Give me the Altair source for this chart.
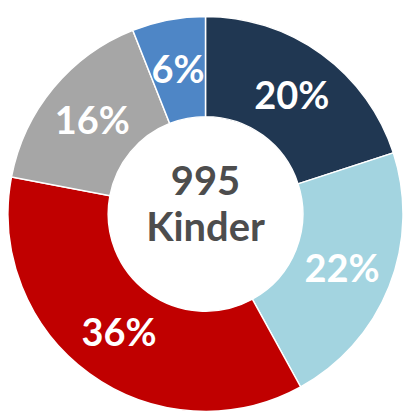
import altair as alt
import pandas as pd

categories = ["A", "B", "C", "D", "E"]
values = [20, 22, 36, 16, 6]
labels = ["20%", "22%", "36%", "16%", "6%"]
colors = ["#203752", "#A3D4E0", "#C00000", "#A6A6A6", "#4E86C6"]
center_lines = ["995", "Kinder"]

df = pd.DataFrame({"cat": categories, "value": values, "label": labels,
                   "idx": list(range(len(categories)))})

CX, CY = 203, 206

base = alt.Chart(df).encode(
    theta=alt.Theta("value:Q", stack=True),
    order=alt.Order("idx:Q"),
    color=alt.Color("cat:N", scale=alt.Scale(domain=categories, range=colors), legend=None),
)

arcs = base.mark_arc(radius=203, radius2=100, stroke="white", strokeWidth=1.5).encode(
    x=alt.value(CX), y=alt.value(CY),
)

text = base.mark_text(font="Lato", fontWeight="bold", fontSize=39,
                      baseline="middle", dy=2, radius=151).encode(
    text="label:N", x=alt.value(CX), y=alt.value(CY),
    color=alt.value("white"),
)

def center_text(line, ypos):
    return alt.Chart(pd.DataFrame({"line": [line]})).mark_text(
        font="Lato", fontWeight="bold", fontSize=41, color="#4D4D4D",
        baseline="alphabetic", align="center"
    ).encode(text="line:N", x=alt.value(CX), y=alt.value(ypos))

c1 = center_text(center_lines[0], 187)
c2 = center_text(center_lines[1], 234)

chart = alt.layer(arcs, text, c1, c2).properties(
    width=406, height=406, padding=0,
    autosize=alt.AutoSizeParams(type="none"),
).configure_view(stroke=None)

chart.save("out.html", embed_options={"renderer": "svg", "actions": False})
